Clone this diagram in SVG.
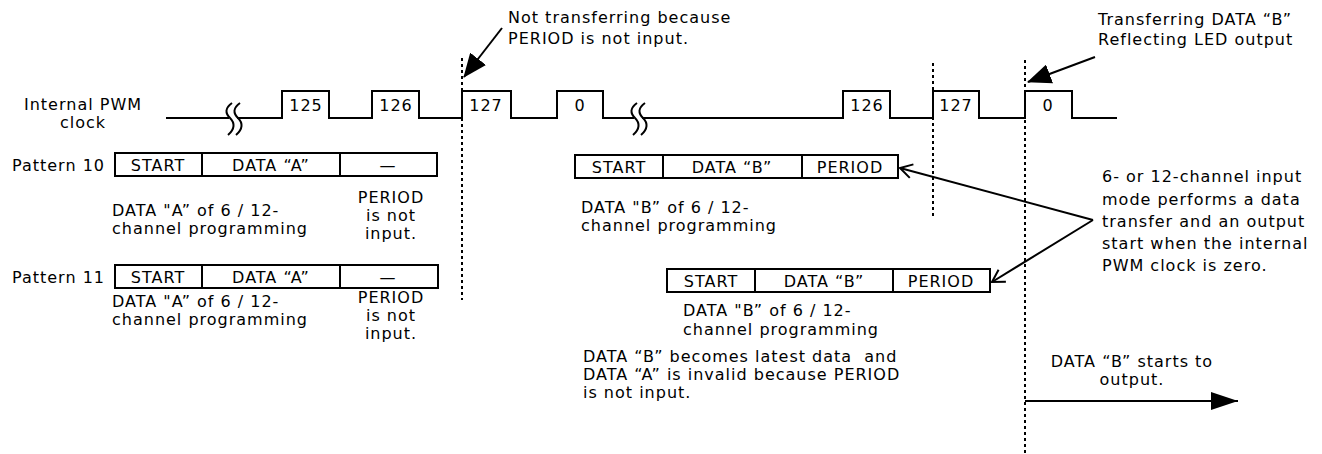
<svg xmlns="http://www.w3.org/2000/svg" width="1322" height="454" viewBox="0 0 1322 454">
<defs>
<style>
.t{font-family:"DejaVu Sans",Verdana,"Liberation Sans",sans-serif;font-size:16px;letter-spacing:1px;fill:#000}
.m{text-anchor:middle}
.e{text-anchor:end}
.w{fill:none;stroke:#000;stroke-width:2}
.box{fill:#fff;stroke:#000;stroke-width:2}
.dot{fill:none;stroke:#000;stroke-width:2;stroke-dasharray:3 3}
.ln{fill:none;stroke:#000;stroke-width:2}
</style>
<marker id="big" viewBox="0 0 30 20" refX="30" refY="10" markerWidth="28" markerHeight="18" markerUnits="userSpaceOnUse" orient="auto">
<path d="M0,0 L30,10 L0,20 Z" fill="#000"/>
</marker>
<marker id="hd" viewBox="0 0 24 20" refX="23" refY="10" markerWidth="24" markerHeight="20" markerUnits="userSpaceOnUse" orient="auto">
<path d="M0,0 L24,10 L0,20 Z" fill="#000"/>
</marker>
<marker id="open" viewBox="0 0 14 16" refX="13" refY="8" markerWidth="14" markerHeight="16" markerUnits="userSpaceOnUse" orient="auto">
<path d="M1,1 L13,8 L1,15" fill="none" stroke="#000" stroke-width="2"/>
</marker>
</defs>
<rect width="1322" height="454" fill="#fff"/>

<g id="clock">
<text class="t m" x="83" y="110">Internal PWM</text>
<text class="t m" x="83" y="128">clock</text>
<path class="w" d="M166,118 H229 M237,118 H282 V91 H329 V118 H372 V91 H419 V118 H462 V91 H511 V118 H557 V91 H603 V118 H634 M642,118 H843 V91 H890 V118 H933 V91 H979 V118 H1025 V91 H1072 V118 H1117"/>
<path class="w" d="M232,103 C225,108 225,113 230,118 C235,123 235,129 228,135 M240,103 C233,108 233,113 238,118 C243,123 243,129 236,135"/>
<path class="w" d="M637,103 C630,108 630,113 635,118 C640,123 640,129 633,135 M645,103 C638,108 638,113 643,118 C648,123 648,129 641,135"/>
<text class="t m" x="306" y="111">125</text>
<text class="t m" x="396" y="111">126</text>
<text class="t m" x="486" y="111">127</text>
<text class="t m" x="580" y="111">0</text>
<text class="t m" x="867" y="111">126</text>
<text class="t m" x="956" y="111">127</text>
<text class="t m" x="1048" y="111">0</text>
</g>

<g id="pattern10">
<text class="t e" x="105" y="171">Pattern 10</text>
<rect class="box" x="115" y="153" width="322" height="23"/>
<path class="ln" d="M202,153 V176 M340,153 V176"/>
<text class="t m" x="158" y="171">START</text>
<text class="t m" x="271" y="171">DATA “A”</text>
<text class="t m" x="388" y="171">—</text>
<text class="t" x="112" y="216">DATA "A” of 6 / 12-</text>
<text class="t" x="112" y="234">channel programming</text>
<text class="t m" x="391" y="203">PERIOD</text>
<text class="t m" x="391" y="221">is not</text>
<text class="t m" x="391" y="239">input.</text>
</g>

<g id="pattern11">
<text class="t e" x="105" y="283">Pattern 11</text>
<rect class="box" x="115" y="265" width="323" height="23"/>
<path class="ln" d="M202,265 V288 M340,265 V288"/>
<text class="t m" x="158" y="283">START</text>
<text class="t m" x="271" y="283">DATA “A”</text>
<text class="t m" x="388" y="283">—</text>
<text class="t" x="112" y="307">DATA "A” of 6 / 12-</text>
<text class="t" x="112" y="325">channel programming</text>
<text class="t m" x="391" y="303">PERIOD</text>
<text class="t m" x="391" y="321">is not</text>
<text class="t m" x="391" y="339">input.</text>
</g>

<g id="dataB1">
<rect class="box" x="575" y="155" width="323" height="23"/>
<path class="ln" d="M663,155 V178 M802,155 V178"/>
<text class="t m" x="619" y="173">START</text>
<text class="t m" x="732" y="173">DATA “B”</text>
<text class="t m" x="850" y="173">PERIOD</text>
<text class="t" x="581" y="213">DATA "B” of 6 / 12-</text>
<text class="t" x="581" y="231">channel programming</text>
</g>

<g id="dataB2">
<rect class="box" x="667" y="269" width="323" height="23"/>
<path class="ln" d="M755,269 V292 M893,269 V292"/>
<text class="t m" x="711" y="287">START</text>
<text class="t m" x="824" y="287">DATA “B”</text>
<text class="t m" x="941" y="287">PERIOD</text>
<text class="t" x="683" y="316">DATA "B” of 6 / 12-</text>
<text class="t" x="683" y="335">channel programming</text>
</g>

<g id="note-latest">
<text class="t" x="583" y="362" style="white-space:pre">DATA “B” becomes latest data  and</text>
<text class="t" x="583" y="380">DATA “A” is invalid because PERIOD</text>
<text class="t" x="583" y="398">is not input.</text>
</g>

<g id="note-not-transferring">
<text class="t" x="508" y="23">Not transferring because</text>
<text class="t" x="508" y="44">PERIOD is not input.</text>
</g>

<g id="note-transferring">
<text class="t" x="1098" y="25">Transferring DATA “B”</text>
<text class="t" x="1098" y="45">Reflecting LED output</text>
</g>

<g id="note-mode">
<text class="t" x="1102" y="182">6- or 12-channel input</text>
<text class="t" x="1102" y="205">mode performs a data</text>
<text class="t" x="1102" y="227">transfer and an output</text>
<text class="t" x="1102" y="249">start when the internal</text>
<text class="t" x="1102" y="271">PWM clock is zero.</text>
</g>

<g id="note-output">
<text class="t m" x="1132" y="367">DATA “B” starts to</text>
<text class="t m" x="1132" y="385">output.</text>
</g>

<g id="connectors">
<line class="dot" x1="462" y1="58" x2="462" y2="300"/>
<line class="dot" x1="933" y1="63" x2="933" y2="218"/>
<line class="dot" x1="1025" y1="60" x2="1025" y2="454"/>
<line class="ln" x1="502" y1="28" x2="464" y2="77" marker-end="url(#hd)"/>
<line class="ln" x1="1095" y1="57" x2="1028" y2="82" marker-end="url(#hd)"/>
<line class="ln" x1="1093" y1="220" x2="900" y2="168" marker-end="url(#open)"/>
<line class="ln" x1="1093" y1="220" x2="992" y2="282" marker-end="url(#open)"/>
<line class="ln" x1="1025" y1="401" x2="1238" y2="401" marker-end="url(#big)"/>
</g>
</svg>
